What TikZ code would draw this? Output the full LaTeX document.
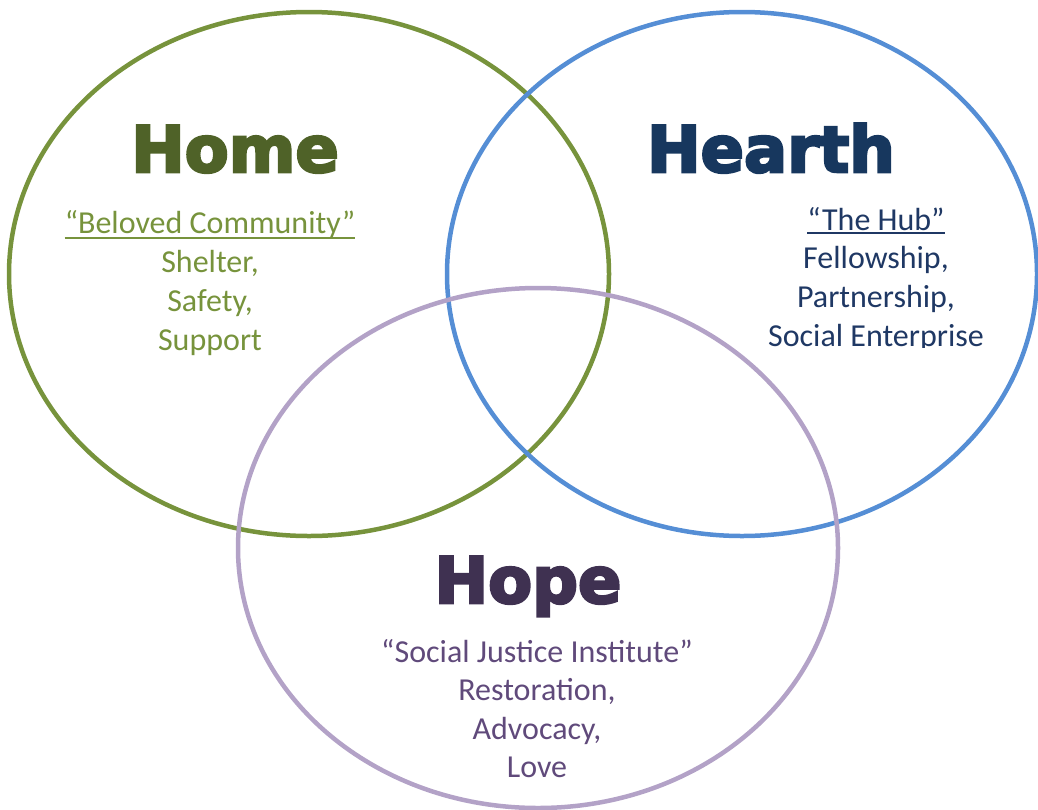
\documentclass[tikz,border=0pt]{standalone}
\usepackage{fontspec}
\setmainfont{Carlito}
\newfontfamily\headfont{DejaVu Sans}[BoldFeatures={FakeBold=4}]
\usepackage{xcolor}
\usepackage{tikz}
\usetikzlibrary{positioning}
\definecolor{homering}{HTML}{77933C}
\definecolor{hometitle}{HTML}{4F6228}
\definecolor{hearthring}{HTML}{558ED5}
\definecolor{hearthtitle}{HTML}{17375E}
\definecolor{hearthtext}{HTML}{1F3864}
\definecolor{hopering}{HTML}{B3A2C7}
\definecolor{hopetitle}{HTML}{3F3151}
\definecolor{hopetext}{HTML}{604A7B}
\tikzset{x=1pt, y=-1pt,
	ring/.style={
		draw=#1,
		line width=4.5pt},
	title/.style={
		text=#1,
		anchor=base,
		inner sep=0pt,
		font=\headfont\bfseries\fontsize{64}{72}\selectfont},
	body/.style={
		text=#1,
		anchor=base,
		inner sep=0pt,
		font=\fontsize{32}{39}\selectfont}
}

\begin{document}
\begin{tikzpicture}
			\useasboundingbox (0,0) rectangle (1038,809);
			% circles
			\draw[ring=homering] (309,274) ellipse [x radius=300, y radius=262];
			\draw[ring=hearthring] (742,274) ellipse [x radius=295, y radius=262];
			\draw[ring=hopering] (538,548) ellipse [x radius=300, y radius=260];
			% home
			\node[title=hometitle] (home) at (235,172) {Home};
			\node[body=homering] (homequote) at (210,233) {“Beloved Community”};
			\node[body=homering] (home1) at (210,272) {Shelter,};
			\node[body=homering] (home2) at (210,311) {Safety,};
			\node[body=homering] (home3) at (210,350) {Support};
			\draw[homering, line width=2pt] ([yshift=-5pt]homequote.base west) -- ([yshift=-5pt]homequote.base east);
			% hearth
			\node[title=hearthtitle] (hearth) at (771,172) {Hearth};
			\node[body=hearthtext] (hearthquote) at (876,230) {“The Hub”};
			\node[body=hearthtext] (hearth1) at (876,268) {Fellowship,};
			\node[body=hearthtext] (hearth2) at (876,307) {Partnership,};
			\begin{scope}
				\clip (600,300) rectangle (1038,347);
				\node[body=hearthtext] (hearth3) at (876,346) {Social Enterprise};
			\end{scope}
			\draw[hearthtext, line width=2pt] ([yshift=-3pt]hearthquote.base west) -- ([yshift=-3pt]hearthquote.base east);
			% hope
			\node[title=hopetitle] (hope) at (528,603) {Hope};
			\node[body=hopetext] (hopequote) at (537,662) {“Social Justice Institute”};
			\node[body=hopetext] (hope1) at (537,700) {Restoration,};
			\node[body=hopetext] (hope2) at (537,739) {Advocacy,};
			\node[body=hopetext] (hope3) at (537,777) {Love};
\end{tikzpicture}
\end{document}
